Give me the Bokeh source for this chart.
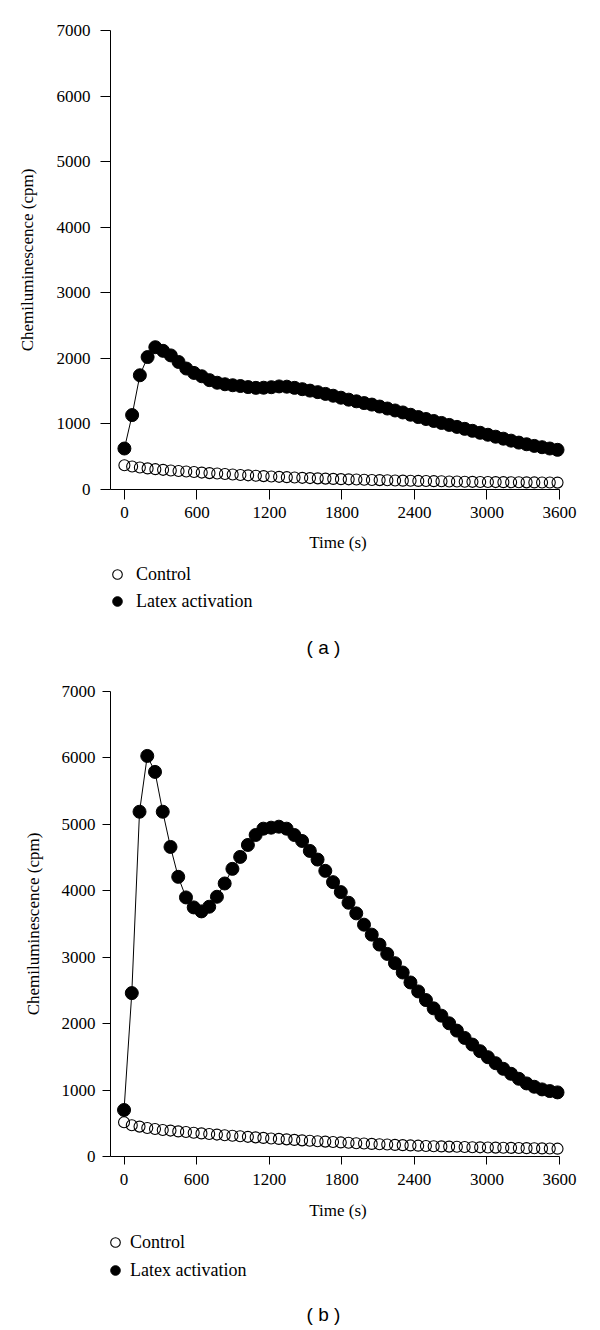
from bokeh.plotting import figure
from bokeh.layouts import column
from bokeh.models import Range1d, FixedTicker, Legend, LegendItem, Label
from bokeh.embed import file_html
from bokeh.resources import INLINE

# ---------------- data ----------------
time_s = [0, 64, 128, 192, 256, 320, 384, 448, 512, 576, 640, 704, 768, 832, 896,
          960, 1024, 1088, 1152, 1216, 1280, 1344, 1408, 1472, 1536, 1600, 1664,
          1728, 1792, 1856, 1920, 1984, 2048, 2112, 2176, 2240, 2304, 2368, 2432,
          2496, 2560, 2624, 2688, 2752, 2816, 2880, 2944, 3008, 3072, 3136, 3200,
          3264, 3328, 3392, 3456, 3520, 3584]

control_a = [370, 350, 335, 322, 310, 300, 290, 282, 274, 266, 258, 250, 243, 236,
             229, 222, 216, 210, 204, 198, 193, 188, 183, 178, 174, 170, 166, 162,
             158, 155, 152, 149, 146, 143, 140, 137, 135, 133, 131, 129, 127, 125,
             123, 121, 119, 117, 115, 114, 113, 112, 111, 110, 109, 108, 107, 106, 105]

latex_a = [625, 1135, 1742, 2020, 2170, 2115, 2045, 1945, 1845, 1778, 1727, 1668,
           1628, 1605, 1590, 1578, 1562, 1550, 1552, 1560, 1572, 1568, 1550, 1530,
           1508, 1485, 1458, 1430, 1400, 1370, 1345, 1318, 1295, 1265, 1235, 1205,
           1175, 1140, 1105, 1075, 1045, 1015, 985, 955, 925, 895, 865, 835, 805,
           775, 745, 715, 690, 665, 645, 625, 605]

control_b = [515, 470, 450, 430, 415, 400, 390, 378, 368, 358, 348, 338, 330, 320,
             312, 304, 296, 288, 280, 272, 265, 258, 250, 243, 236, 230, 224, 218,
             212, 206, 200, 195, 190, 185, 180, 175, 171, 167, 163, 159, 155, 152,
             149, 146, 143, 140, 138, 136, 134, 132, 130, 128, 126, 124, 122, 120, 118]

latex_b = [700, 2460, 5190, 6030, 5790, 5190, 4660, 4210, 3900, 3750, 3690, 3760,
           3910, 4110, 4330, 4510, 4690, 4840, 4935, 4950, 4965, 4935, 4840, 4750,
           4600, 4470, 4300, 4130, 3980, 3820, 3660, 3490, 3340, 3190, 3050, 2910,
           2770, 2620, 2485, 2355, 2230, 2120, 2005, 1895, 1785, 1685, 1585, 1495,
           1405, 1320, 1245, 1170, 1100, 1050, 1010, 985, 965]

x_ticks = [0, 600, 1200, 1800, 2400, 3000, 3600]
y_ticks = [0, 1000, 2000, 3000, 4000, 5000, 6000, 7000]

x_label = "Time (s)"
y_label = "Chemiluminescence (cpm)"
series_names = ["Control", "Latex activation"]
captions = ["( a )", "( b )"]

SERIF = "Liberation Serif"
SANS = "Liberation Sans"

CTRL_STYLE = dict(marker="circle", fill_color=None, line_color="black", line_width=1.1)
LATEX_STYLE = dict(marker="circle", fill_color="black", line_color="black", line_width=1)


def make_panel(ctrl, latex, height, xstart, mb_left, mb_top, mb_bottom, mb_right,
               tick_out, ytick_standoff, ylab_standoff, xtick_standoff, xlab_standoff):
    p = figure(width=600, height=height, output_backend="svg", toolbar_location=None,
               x_range=Range1d(xstart, 3650), y_range=Range1d(0, 7000),
               min_border_left=mb_left, min_border_right=mb_right,
               min_border_top=mb_top, min_border_bottom=mb_bottom)
    p.outline_line_color = None
    p.grid.visible = False
    p.background_fill_color = "white"
    p.border_fill_color = "white"

    p.scatter(time_s, ctrl, size=11, **CTRL_STYLE)
    p.line(time_s, latex, line_color="black", line_width=1)
    p.scatter(time_s, latex, size=13, **LATEX_STYLE)

    for ax in (p.xaxis[0], p.yaxis[0]):
        ax.axis_line_color = "black"
        ax.axis_line_width = 1
        ax.major_tick_line_color = "black"
        ax.major_tick_in = 0
        ax.major_tick_out = tick_out
        ax.minor_tick_line_color = None
        ax.major_label_text_font = SERIF
        ax.major_label_text_font_size = "17px"
        ax.major_label_text_color = "black"
        ax.axis_label_text_font = SERIF
        ax.axis_label_text_font_size = "17px"
        ax.axis_label_text_font_style = "normal"
        ax.axis_label_text_color = "black"

    p.xaxis.ticker = FixedTicker(ticks=x_ticks)
    p.yaxis.ticker = FixedTicker(ticks=y_ticks)
    p.xaxis.bounds = (xstart, 3600)
    p.yaxis.bounds = (0, 7000)
    p.xaxis.axis_label = x_label
    p.yaxis.axis_label = y_label
    p.xaxis.major_label_standoff = xtick_standoff
    p.xaxis.axis_label_standoff = xlab_standoff
    p.yaxis.major_label_standoff = ytick_standoff
    p.yaxis.axis_label_standoff = ylab_standoff
    return p


def make_key(ctrl, latex, caption, height, legend_loc, spacing, standoff, caption_pos):
    # key strip under each panel: series drawn out of its (unit) ranges so only
    # the legend entries and the caption are visible
    k = figure(width=600, height=height, output_backend="svg", toolbar_location=None,
               x_range=Range1d(-2, -1), y_range=Range1d(-2, -1),
               x_axis_type=None, y_axis_type=None,
               min_border_left=0, min_border_right=0,
               min_border_top=0, min_border_bottom=0)
    k.outline_line_color = None
    k.grid.visible = False
    k.background_fill_color = "white"
    k.border_fill_color = "white"
    oc = k.scatter(time_s, ctrl, size=11, **CTRL_STYLE)
    fc = k.scatter(time_s, latex, size=13, **LATEX_STYLE)
    legend = Legend(items=[LegendItem(label=series_names[0], renderers=[oc]),
                           LegendItem(label=series_names[1], renderers=[fc])],
                    location=legend_loc, orientation="vertical",
                    margin=0, padding=0, spacing=spacing,
                    glyph_width=24, glyph_height=24, label_height=24,
                    label_standoff=standoff,
                    label_text_font=SERIF, label_text_font_size="18px",
                    label_text_color="black",
                    border_line_color=None, background_fill_alpha=0)
    k.add_layout(legend, "center")
    k.add_layout(Label(x=caption_pos[0], y=caption_pos[1], x_units="screen",
                       y_units="screen", text=caption, text_align="center",
                       text_baseline="middle", text_font=SANS,
                       text_font_size="19px", text_color="black"))
    return k


pa = make_panel(control_a, latex_a, 560, -115, 110, 30, 71, 33, 10, 10, 17, 7, 12)
ka = make_key(control_a, latex_a, captions[0], 113, (-5, 60), 3, 7, (213, 26))
pb = make_panel(control_b, latex_b, 554, -112, 103, 18, 71, 35, 8, 7, 16, 9, 13)
kb = make_key(control_b, latex_b, captions[1], 101, (-7, 46), 4, 3, (213, 14))

layout = column(pa, ka, pb, kb, spacing=0)
open("out.html", "w").write(file_html(layout, INLINE))
